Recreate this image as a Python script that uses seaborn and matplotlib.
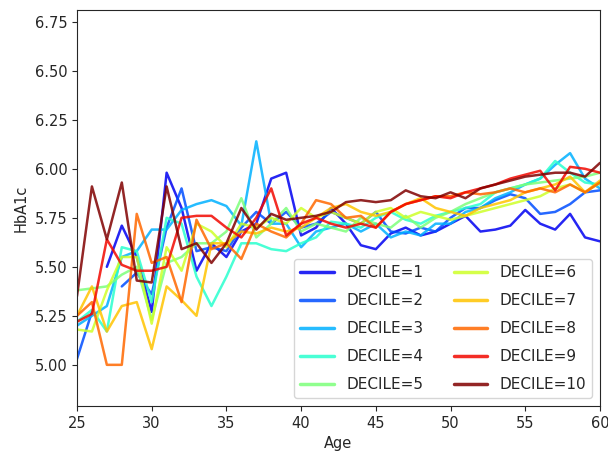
import numpy as np
import pandas as pd
import seaborn as sns
import matplotlib.pyplot as plt

nan = np.nan

ages = list(range(25, 61))

# mean HbA1c per age, one list per decile
decile_1 = [nan, nan, 5.50, 5.71, 5.55, 5.27, 5.98, 5.80, 5.48, 5.62, 5.55, 5.68,
            5.72, 5.95, 5.98, 5.66, 5.70, 5.80, 5.72, 5.61, 5.59, 5.67, 5.70, 5.66,
            5.68, 5.72, 5.76, 5.68, 5.69, 5.71, 5.79, 5.72, 5.69, 5.77, 5.65, 5.63]
decile_2 = [5.03, 5.27, nan, 5.40, 5.47, 5.36, 5.70, 5.90, 5.58, 5.60, 5.58, 5.70,
            5.78, 5.72, 5.78, 5.70, 5.72, 5.78, 5.75, 5.72, 5.78, 5.68, 5.67, 5.70,
            5.68, 5.75, 5.80, 5.80, 5.84, 5.87, 5.85, 5.77, 5.78, 5.82, 5.88, 5.89]
decile_3 = [5.20, 5.25, 5.30, 5.55, 5.58, 5.69, 5.69, 5.79, 5.82, 5.84, 5.81, 5.71,
            6.14, 5.72, 5.72, 5.60, 5.68, 5.70, 5.72, 5.68, 5.72, 5.65, 5.68, 5.66,
            5.72, 5.72, 5.78, 5.80, 5.85, 5.88, 5.92, 5.95, 6.02, 6.08, 5.95, 5.90]
decile_4 = [5.22, 5.28, 5.17, 5.60, 5.58, 5.32, 5.75, 5.72, 5.45, 5.30, 5.45, 5.62,
            5.62, 5.59, 5.58, 5.62, 5.65, 5.73, 5.72, 5.70, 5.75, 5.78, 5.74, 5.72,
            5.76, 5.78, 5.80, 5.82, 5.88, 5.90, 5.92, 5.95, 6.04, 5.98, 5.93, 5.92]
decile_5 = [5.38, 5.39, 5.40, 5.46, 5.50, 5.23, 5.52, 5.55, 5.62, 5.62, 5.68, 5.85,
            5.65, 5.72, 5.80, 5.68, 5.72, 5.70, 5.68, 5.75, 5.72, 5.70, 5.76, 5.70,
            5.75, 5.78, 5.82, 5.85, 5.88, 5.90, 5.92, 5.93, 5.94, 5.95, 5.96, 5.98]
decile_6 = [5.18, 5.17, 5.38, 5.55, 5.55, 5.21, 5.60, 5.48, 5.72, 5.68, 5.60, 5.72,
            5.70, 5.75, 5.72, 5.80, 5.75, 5.78, 5.75, 5.72, 5.78, 5.80, 5.75, 5.78,
            5.76, 5.74, 5.76, 5.78, 5.80, 5.82, 5.84, 5.86, 5.90, 5.92, 5.88, 5.93]
decile_7 = [5.25, 5.40, 5.17, 5.30, 5.32, 5.08, 5.40, 5.33, 5.25, 5.62, 5.62, 5.68,
            5.67, 5.70, 5.68, 5.70, 5.75, 5.80, 5.82, 5.78, 5.76, 5.78, 5.82, 5.85,
            5.80, 5.78, 5.76, 5.80, 5.82, 5.84, 5.88, 5.90, 5.92, 5.96, 5.88, 5.94]
decile_8 = [5.25, 5.32, 5.00, 5.00, 5.77, 5.52, 5.55, 5.32, 5.74, 5.59, 5.62, 5.54,
            5.72, 5.68, 5.65, 5.72, 5.84, 5.82, 5.75, 5.76, 5.70, 5.78, 5.82, 5.84,
            5.86, 5.86, 5.88, 5.87, 5.88, 5.90, 5.88, 5.90, 5.88, 5.92, 5.88, 5.93]
decile_9 = [5.22, 5.26, 5.64, 5.51, 5.48, 5.48, 5.50, 5.75, 5.76, 5.76, 5.70, 5.65,
            5.75, 5.90, 5.66, 5.72, 5.75, 5.72, 5.70, 5.72, 5.70, 5.78, 5.82, 5.84,
            5.86, 5.85, 5.88, 5.90, 5.92, 5.95, 5.97, 5.99, 5.89, 6.01, 6.00, 5.98]
decile_10 = [5.35, 5.91, 5.64, 5.93, 5.43, 5.42, 5.91, 5.59, 5.62, 5.52, 5.62, 5.80,
             5.69, 5.77, 5.74, 5.75, 5.76, 5.78, 5.83, 5.84, 5.83, 5.84, 5.89, 5.86,
             5.85, 5.88, 5.85, 5.90, 5.92, 5.94, 5.96, 5.97, 5.98, 5.98, 5.96, 6.03]

deciles = [decile_1, decile_2, decile_3, decile_4, decile_5,
           decile_6, decile_7, decile_8, decile_9, decile_10]
labels = ["DECILE=%d" % (i + 1) for i in range(10)]

# long table; a missing age breaks the line into a new segment
rows = []
for lab, vals in zip(labels, deciles):
    seg = 0
    for a, v in zip(ages, vals):
        if np.isnan(v):
            seg += 1
            continue
        rows.append({"Age": a, "HbA1c": v, "DECILE": lab, "seg": "%s_%d" % (lab, seg)})
df = pd.DataFrame(rows)

sns.set_style("ticks")

fig = plt.figure(figsize=(6.08, 4.61), dpi=100)
ax = fig.add_axes([0.1266, 0.1193, 0.8602, 0.859])

colors = [plt.cm.jet((i + 1) / 10) for i in range(10)]

sns.lineplot(data=df, x="Age", y="HbA1c", hue="DECILE", units="seg",
             estimator=None, palette=colors, hue_order=labels,
             linewidth=1.8, alpha=0.85, ax=ax)

ax.set_xlim(25, 60)
ax.set_ylim(4.79, 6.81)
ax.set_xticks(range(25, 61, 5))
ax.set_yticks(np.arange(5.0, 6.76, 0.25))
ax.set_yticklabels(["%.2f" % t for t in np.arange(5.0, 6.76, 0.25)])
ax.tick_params(labelsize=10.5)
ax.set_xlabel("Age", fontsize=10.5)
ax.set_ylabel("HbA1c", fontsize=10.5)

leg = ax.legend(loc="lower right", ncol=2, fontsize=11,
                labelspacing=0.85, handlelength=2.2)
for line in leg.get_lines():
    line.set_linewidth(2.5)

fig.savefig("out.png", dpi=100)
